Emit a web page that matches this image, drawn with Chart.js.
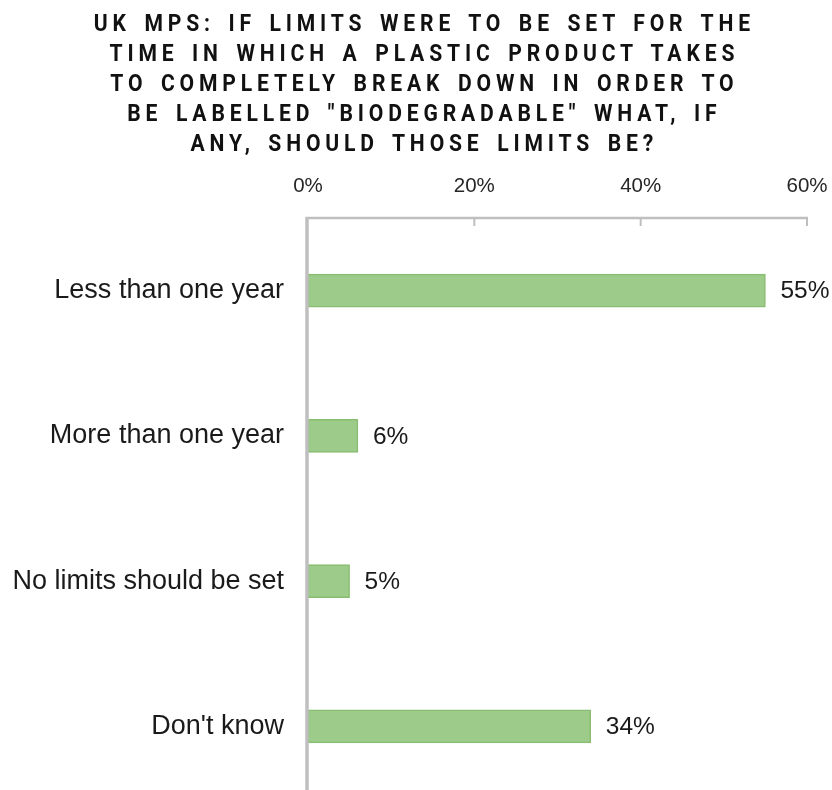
<!DOCTYPE html>
<html>
<head>
<meta charset="utf-8">
<script src="https://cdn.jsdelivr.net/npm/chart.js@4.4.1/dist/chart.umd.min.js"></script>
<style>
  html, body { margin: 0; padding: 0; background: #fff; overflow: hidden; }
  #wrap { position: relative; width: 832px; height: 800px; overflow: hidden; }
  #title {
    position: absolute; top: 8px; left: -276px; width: 1400px;
    text-align: center; white-space: nowrap;
    font: bold 24px Roboto, "Liberation Sans", sans-serif;
    letter-spacing: 5.5px; word-spacing: 4px; line-height: 30px; color: #111;
    transform: scaleX(0.88); transform-origin: 703px 0;
  }
  canvas { position: absolute; top: 0; left: 0; }
</style>
</head>
<body>
<div id="wrap">
  <canvas id="chart" width="832" height="800"></canvas>
  <div id="title">UK MPS: IF LIMITS WERE TO BE SET FOR THE<br>TIME IN WHICH A PLASTIC PRODUCT TAKES<br>TO COMPLETELY BREAK DOWN IN ORDER TO<br>BE LABELLED "BIODEGRADABLE" WHAT, IF<br>ANY, SHOULD THOSE LIMITS BE?</div>
</div>
<script>
const categories = ['Less than one year', 'More than one year', 'No limits should be set', "Don't know"];
const shares = [55, 6, 5, 34];
const tickValues = [0, 20, 40, 60];

const axisColor = '#bfbfbf';
const labelFont = '"Liberation Sans", Arial, sans-serif';

// grey axis lines with the small tick marks hanging below the top axis
const axisLines = {
  id: 'axisLines',
  afterDraw(chart) {
    const ctx = chart.ctx;
    const x = chart.scales.x;
    const area = chart.chartArea;
    ctx.save();
    ctx.strokeStyle = axisColor;
    ctx.lineWidth = 2.5;
    ctx.beginPath();
    ctx.moveTo(x.left - 2, area.top);
    ctx.lineTo(x.right + 1, area.top);
    ctx.stroke();
    ctx.lineWidth = 2;
    x.ticks.forEach(t => {
      if (t.value === 0) return;
      const px = x.getPixelForValue(t.value);
      ctx.beginPath();
      ctx.moveTo(px, area.top);
      ctx.lineTo(px, area.top + 8);
      ctx.stroke();
    });
    ctx.lineWidth = 3.5;
    ctx.beginPath();
    ctx.moveTo(x.left - 1, area.top - 1);
    ctx.lineTo(x.left - 1, chart.height);
    ctx.stroke();
    ctx.restore();
  }
};

// percentage written just past the end of each bar
const valueLabels = {
  id: 'valueLabels',
  afterDatasetsDraw(chart) {
    const ctx = chart.ctx;
    const meta = chart.getDatasetMeta(0);
    ctx.save();
    ctx.font = '24.5px ' + labelFont;
    ctx.fillStyle = '#1a1a1a';
    ctx.textBaseline = 'middle';
    ctx.textAlign = 'left';
    meta.data.forEach((bar, i) => {
      ctx.fillText(shares[i] + '%', bar.x + 15, bar.y + 1);
    });
    ctx.restore();
  }
};

new Chart(document.getElementById('chart'), {
  type: 'bar',
  data: {
    labels: categories,
    datasets: [{
      data: shares,
      backgroundColor: '#9dcb89',
      borderColor: '#89bd71',
      borderWidth: 1.5,
      borderSkipped: false,
      barThickness: 33
    }]
  },
  options: {
    indexAxis: 'y',
    responsive: false,
    animation: false,
    events: [],
    layout: { padding: { top: 0, right: 25, bottom: 1, left: 0 } },
    plugins: {
      legend: { display: false },
      tooltip: { enabled: false },
      title: { display: false }
    },
    scales: {
      x: {
        position: 'top',
        min: 0,
        max: 60,
        afterBuildTicks: s => { s.ticks = tickValues.map(v => ({ value: v })); },
        afterFit: s => { s.height = 218; s.paddingLeft = 0; s.paddingRight = 0; },
        grid: { display: false, drawTicks: false },
        border: { display: false },
        ticks: {
          padding: 19,
          color: '#262626',
          font: { family: labelFont, size: 20.5 },
          callback: v => v + '%'
        }
      },
      y: {
        afterFit: s => { s.width = 308; s.paddingTop = 0; s.paddingBottom = 0; },
        grid: { display: false, drawTicks: false },
        border: { display: false },
        ticks: {
          padding: 24,
          color: '#1a1a1a',
          font: { family: labelFont, size: 27 }
        }
      }
    }
  },
  plugins: [axisLines, valueLabels]
});
</script>
</body>
</html>
